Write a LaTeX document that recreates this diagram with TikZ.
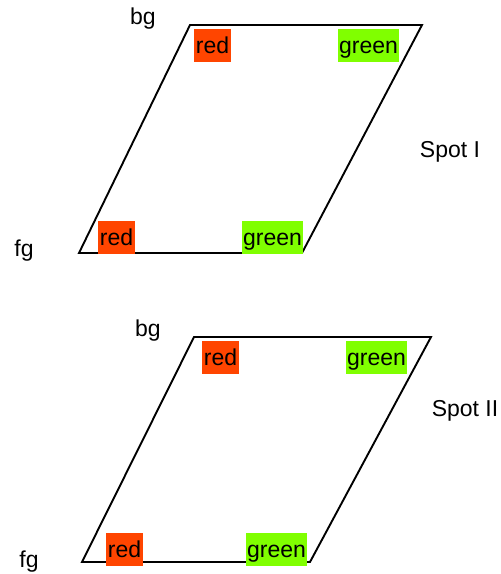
\documentclass[tikz,border=0pt]{standalone}
\usepackage{fontspec}
\setmainfont{Liberation Sans}
\definecolor{spotred}{HTML}{FF4500}
\definecolor{spotgreen}{HTML}{80FF00}
\begin{document}
\begin{tikzpicture}[x=1pt,y=-1pt,
  plate/.style={draw=black, line width=1.9pt, line join=miter},
  lbl/.style={font=\fontsize{23}{26}\selectfont, inner sep=0pt},
  swatch/.style={font=\fontsize{23}{26}\selectfont, inner sep=0pt,
    minimum height=33pt, text height=17pt, text depth=1pt},
  redsw/.style={swatch, fill=spotred, minimum width=37pt},
  greensw/.style={swatch, fill=spotgreen, minimum width=61pt}]
\useasboundingbox (0,0) rectangle (501,574);

% Spot I: tilted plate
\coordinate (p1a) at (190,25);
\coordinate (p1b) at (422,25);
\coordinate (p1c) at (302,253);
\coordinate (p1d) at (79,253);
\draw[plate] (p1a) -- (p1b) -- (p1c) -- (p1d) -- cycle;
\node[redsw]   (r1t) at (212.5,45.5) {red};
\node[greensw] (g1t) at (368.5,45.5) {green};
\node[redsw]   (r1b) at (116.5,237) {red};
\node[greensw] (g1b) at (272.5,237) {green};
\node[lbl] (bg1) at (143,19) {bg};
\node[lbl] (fg1) at (24,251) {fg};
\node[lbl] (spot1) at (450,152) {Spot I};

% Spot II: tilted plate
\coordinate (p2a) at (194,337);
\coordinate (p2b) at (431,337);
\coordinate (p2c) at (310,562);
\coordinate (p2d) at (82,562);
\draw[plate] (p2a) -- (p2b) -- (p2c) -- (p2d) -- cycle;
\node[redsw]   (r2t) at (220.5,357) {red};
\node[greensw] (g2t) at (376.5,357) {green};
\node[redsw]   (r2b) at (124.5,549) {red};
\node[greensw] (g2b) at (276.5,549) {green};
\node[lbl] (bg2) at (148,331) {bg};
\node[lbl] (fg2) at (29,562) {fg};
\node[lbl] (spot2) at (465,411) {Spot II};
\end{tikzpicture}
\end{document}
